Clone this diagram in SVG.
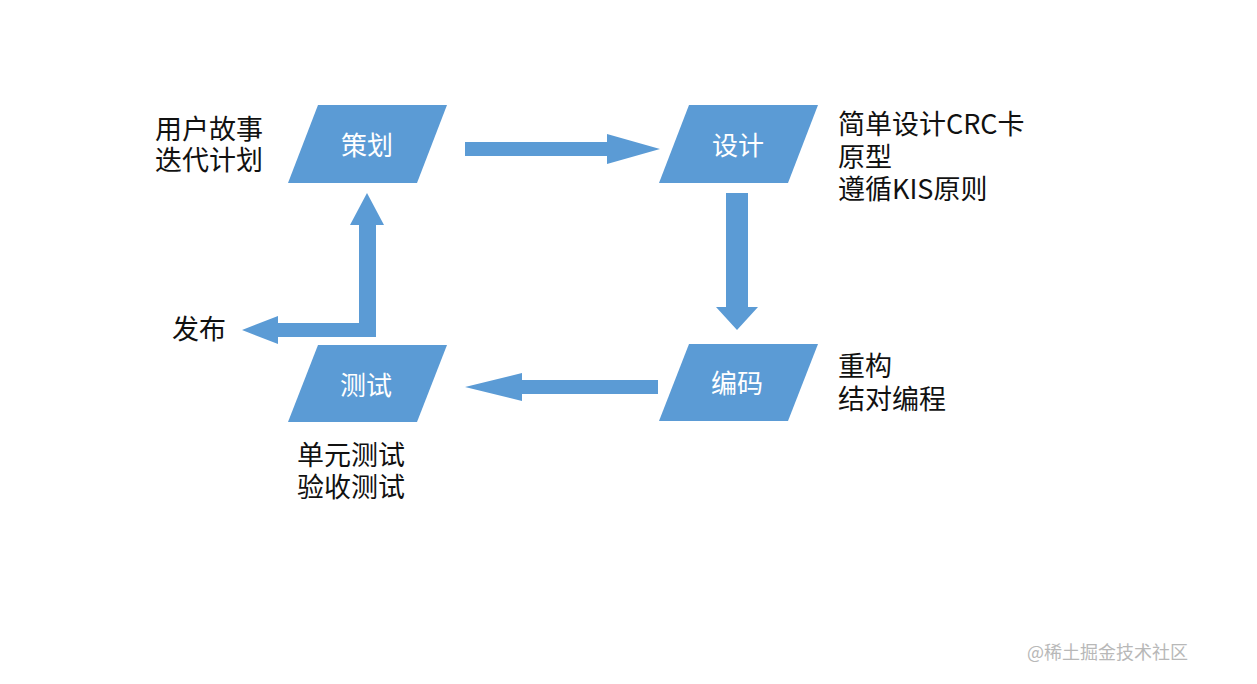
<svg xmlns="http://www.w3.org/2000/svg" width="1257" height="684" viewBox="0 0 1257 684">
<style>
.shape{fill:#5B9BD5;}
.conn{fill:#5B9BD5;}
.ntext{font-family:"Noto Sans CJK SC","Noto Sans",sans-serif;font-size:26px;fill:#ffffff;text-anchor:middle;}
.label{font-family:"Noto Sans CJK SC","Noto Sans",sans-serif;font-size:27px;fill:#111111;}
.wm{font-family:"Noto Sans CJK SC","Noto Sans",sans-serif;font-size:18px;fill:#b8b8b8;}
</style>
<rect x="0" y="0" width="1257" height="684" fill="#ffffff"/>
<g id="connectors">
<polygon class="conn" points="465,142 607,142 607,134 660,149 607,164 607,156 465,156"/>
<polygon class="conn" points="726,193 748,193 748,307 758,307 737,330 716,307 726,307"/>
<polygon class="conn" points="658,380 658,394 522,394 522,401 465,387 522,373 522,380"/>
<polygon class="conn" points="367,193 384,225 376,225 376,337 278,337 278,344 242,330 278,316 278,323 359,323 359,225 350,225"/>
</g>
<g id="node-plan">
<polygon class="shape" points="318,105 447,105 417,183 288,183"/>
<text class="ntext" x="367" y="155">策划</text>
</g>
<g id="node-design">
<polygon class="shape" points="689,105 818,105 788,183 659,183"/>
<text class="ntext" x="738" y="155">设计</text>
</g>
<g id="node-code">
<polygon class="shape" points="689,344 818,344 788,421 659,421"/>
<text class="ntext" x="737" y="393">编码</text>
</g>
<g id="node-test">
<polygon class="shape" points="318,345 447,345 417,422 288,422"/>
<text class="ntext" x="366" y="395">测试</text>
</g>
<g id="label-plan">
<text class="label" x="155" y="139"><tspan x="155" y="139">用户故事</tspan><tspan x="155" y="170">迭代计划</tspan></text>
</g>
<g id="label-design">
<text class="label" x="838" y="134"><tspan x="838" y="134">简单设计CRC卡</tspan><tspan x="838" y="167">原型</tspan><tspan x="838" y="199">遵循KIS原则</tspan></text>
</g>
<g id="label-code">
<text class="label" x="838" y="376"><tspan x="838" y="376">重构</tspan><tspan x="838" y="409">结对编程</tspan></text>
</g>
<g id="label-release">
<text class="label" x="172" y="339">发布</text>
</g>
<g id="label-test">
<text class="label" x="297" y="465"><tspan x="297" y="465">单元测试</tspan><tspan x="297" y="497">验收测试</tspan></text>
</g>
<text class="wm" x="1027" y="659">@稀土掘金技术社区</text>
</svg>
